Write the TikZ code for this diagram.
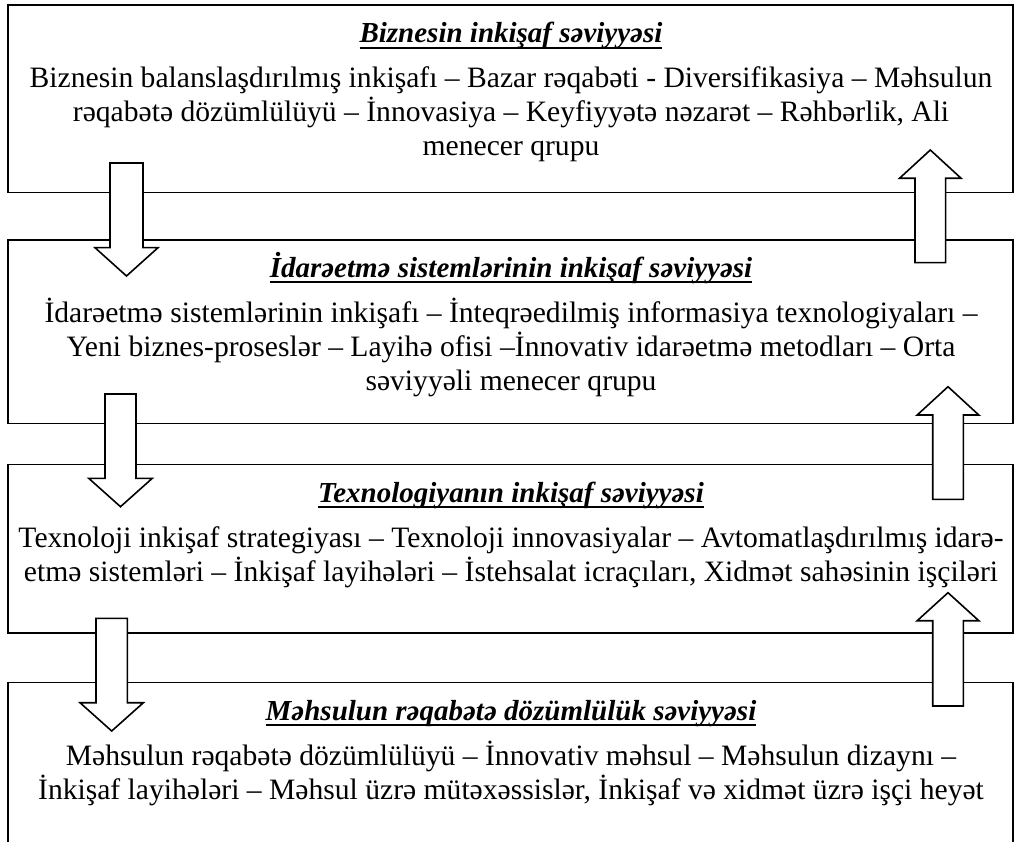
\documentclass[tikz,border=0pt]{standalone}
\usepackage{fontspec}
\setmainfont{Liberation Serif}

% heading text with a heavy rule under it
\newcommand\ulheading[1]{\setbox0\hbox{#1}\leavevmode\rlap{\rule[-6pt]{\wd0}{2.4pt}}\box0}

% hollow block arrow: centre x, half shaft width, half head width, tail y, head base y, tip y
\newcommand\blockarrow[6]{%
  \draw[blockarrow] ({#1-#2},#4) -- ({#1-#2},#5) -- ({#1-#3},#5) -- (#1,#6)
    -- ({#1+#3},#5) -- ({#1+#2},#5) -- ({#1+#2},#4) -- cycle;}

\tikzset{
  level/.style={draw, line width=1.6pt, inner sep=0pt, anchor=north west},
  blockarrow/.style={draw, fill=white, line width=1.6pt, line join=miter},
  heading/.style={anchor=base, inner sep=0pt, font=\fontsize{29}{33}\selectfont\bfseries\itshape},
  body/.style={anchor=base, inner sep=0pt, font=\fontsize{29.6}{34}\selectfont},
}

\begin{document}
\begin{tikzpicture}[x=1pt,y=-1pt]
\useasboundingbox (0,0) rectangle (1015,842);

% the four levels
\node[level, minimum width=1004.7pt, minimum height=187.4pt] (box1) at (7.3,4.3) {};
\node[level, minimum width=1004.7pt, minimum height=183.7pt] (box2) at (7.3,239) {};
\node[level, minimum width=1004.7pt, minimum height=168.5pt] (box3) at (7.3,463.5) {};
\node[level, minimum width=1004.7pt, minimum height=200pt] (box4) at (7.3,681.7) {};

% downward arrows on the left
\blockarrow{126.5}{16.5}{31.5}{163}{247.7}{276}
\blockarrow{120.5}{15.5}{31.8}{394}{478.3}{506.7}
\blockarrow{111.7}{15.7}{31.7}{618.3}{702.7}{731}
% upward arrows on the right
\blockarrow{930.3}{15.3}{30.8}{262.7}{178.3}{150}
\blockarrow{948}{15.3}{30.8}{499.3}{415}{386.7}
\blockarrow{948}{15.3}{30.8}{706}{620.7}{592.7}

% level 1
\node[heading] (t1) at (511,43) {\ulheading{Biznesin inkişaf səviyyəsi}};
\node[body] (b1a) at (511,88) {Biznesin balanslaşdırılmış inkişafı – Bazar rəqabəti - Diversifikasiya – Məhsulun};
\node[body] (b1b) at (511,122) {rəqabətə dözümlülüyü – İnnovasiya – Keyfiyyətə nəzarət – Rəhbərlik, Ali};
\node[body] (b1c) at (511,156) {menecer qrupu};

% level 2
\node[heading] (t2) at (511,277.5) {\ulheading{İdarəetmə sistemlərinin inkişaf səviyyəsi}};
\node[body] (b2a) at (511,322.5) {İdarəetmə sistemlərinin inkişafı – İnteqrəedilmiş informasiya texnologiyaları –};
\node[body] (b2b) at (511,356.5) {Yeni biznes-proseslər – Layihə ofisi –İnnovativ idarəetmə metodları – Orta};
\node[body] (b2c) at (511,390.5) {səviyyəli menecer qrupu};

% level 3
\node[heading] (t3) at (511,502) {\ulheading{Texnologiyanın inkişaf səviyyəsi}};
\node[body] (b3a) at (511,547) {Texnoloji inkişaf strategiyası – Texnoloji innovasiyalar – Avtomatlaşdırılmış idarə-};
\node[body] (b3b) at (511,581) {etmə sistemləri – İnkişaf layihələri – İstehsalat icraçıları, Xidmət sahəsinin işçiləri};

% level 4
\node[heading] (t4) at (511,720) {\ulheading{Məhsulun rəqabətə dözümlülük səviyyəsi}};
\node[body] (b4a) at (511,765) {Məhsulun rəqabətə dözümlülüyü – İnnovativ məhsul – Məhsulun dizaynı –};
\node[body] (b4b) at (511,799) {İnkişaf layihələri – Məhsul üzrə mütəxəssislər, İnkişaf və xidmət üzrə işçi heyət};
\end{tikzpicture}
\end{document}
